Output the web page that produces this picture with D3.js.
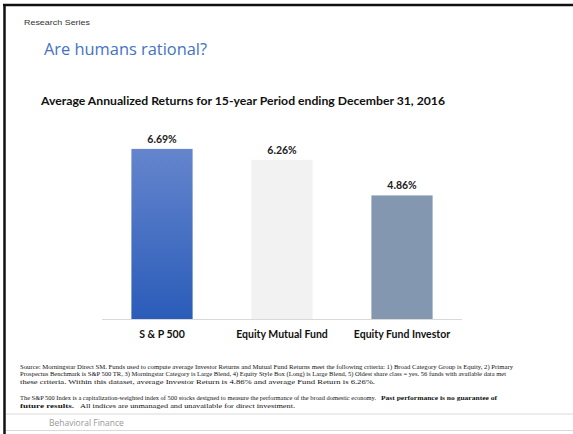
<!DOCTYPE html>
<html>
<head>
<meta charset="utf-8">
<script src="https://cdn.jsdelivr.net/npm/d3@7"></script>
<style>
  body { margin: 0; background: #fff; }
  svg { display: block; }
</style>
</head>
<body>
<svg id="chart" width="573" height="434"></svg>
<script>
// data
const categories = ["S & P 500", "Equity Mutual Fund", "Equity Fund Investor"];
const returns = [6.69, 6.26, 4.86];
const barColors = ["url(#spGrad)", "#f2f2f2", "#8497b0"];

const footLines = [
  "Source: Morningstar Direct SM. Funds used to compute average Investor Returns and Mutual Fund Returns meet the following criteria: 1) Broad Category Group is Equity, 2) Primary",
  "Prospectus Benchmark is S&P 500 TR, 3) Morningstar Category is Large Blend, 4) Equity Style Box (Long) is Large Blend, 5) Oldest share class = yes. 56 funds with available data met",
  "these criteria. Within this dataset, average Investor Return is 4.86% and average Fund Return is 6.26%."
];
const noteRuns = [
  { text: "The S&P 500 Index is a capitalization-weighted index of 500 stocks designed to measure the performance of the broad domestic economy.", bold: false, x: 20, len: 356, row: 0 },
  { text: "Past performance is no guarantee of", bold: true, x: 381, len: 116, row: 0 },
  { text: "future results.", bold: true, x: 20, len: 54, row: 1 },
  { text: "All indices are unmanaged and unavailable for direct investment.", bold: false, x: 80, len: 215, row: 1 }
];

const svg = d3.select("#chart");

// shrink font if too wide, then stretch to exact length
function fitText(sel, target, size) {
  sel.each(function(d, i) {
    const t = d3.select(this);
    const w = typeof target === "function" ? target(d, i) : target;
    t.attr("font-size", size);
    const natural = this.getComputedTextLength();
    if (natural > w) t.attr("font-size", size * w / natural);
    t.attr("textLength", w).attr("lengthAdjust", "spacingAndGlyphs");
  });
}

const defs = svg.append("defs");
const grad = defs.append("linearGradient").attr("id", "spGrad")
  .attr("x1", 0).attr("y1", 0).attr("x2", 0).attr("y2", 1);
grad.append("stop").attr("offset", "0%").attr("stop-color", "#6585cd");
grad.append("stop").attr("offset", "100%").attr("stop-color", "#2a5cb9");

// slide frame
svg.append("line").attr("x1", 3).attr("x2", 573).attr("y1", 5).attr("y2", 5)
  .attr("stroke", "#111").attr("stroke-width", 2.5);
svg.append("line").attr("x1", 4.5).attr("x2", 4.5).attr("y1", 4).attr("y2", 434)
  .attr("stroke", "#111").attr("stroke-width", 2.5);

svg.append("text").attr("x", 24).attr("y", 25)
  .attr("font-family", "Liberation Sans, sans-serif").attr("font-size", 7.5)
  .attr("fill", "#333").attr("textLength", 66).attr("lengthAdjust", "spacingAndGlyphs")
  .text("Research Series");

svg.append("text").attr("x", 44).attr("y", 55)
  .attr("font-family", "Open Sans, sans-serif").attr("font-size", 16.5)
  .attr("fill", "#4472c4").attr("textLength", 163).attr("lengthAdjust", "spacingAndGlyphs")
  .text("Are humans rational?");

svg.append("text").attr("x", 41).attr("y", 105)
  .attr("font-family", "Lato, sans-serif").attr("font-size", 12).attr("font-weight", "bold")
  .attr("fill", "#111").attr("textLength", 404).attr("lengthAdjust", "spacingAndGlyphs")
  .text("Average Annualized Returns for 15-year Period ending December 31, 2016");

// chart
const x = d3.scaleBand().domain(categories).range([102, 462]).paddingInner(0.49).paddingOuter(0.245);
const y = d3.scaleLinear().domain([0, 7]).range([319, 141]);

const g = svg.append("g");
g.selectAll("rect.bar").data(returns).join("rect")
  .attr("class", "bar")
  .attr("x", (d, i) => x(categories[i]))
  .attr("width", x.bandwidth())
  .attr("y", d => y(d))
  .attr("height", d => y(0) - y(d))
  .attr("fill", (d, i) => barColors[i]);

g.selectAll("text.val").data(returns).join("text")
  .attr("class", "val")
  .attr("x", (d, i) => x(categories[i]) + x.bandwidth() / 2)
  .attr("y", d => y(d) - 6)
  .attr("text-anchor", "middle")
  .attr("font-family", "Lato, sans-serif").attr("font-size", 10.5).attr("font-weight", "bold")
  .attr("fill", "#222")
  .text(d => d.toFixed(2) + "%");

const axis = g.append("g").attr("transform", `translate(0,${y(0)})`)
  .call(d3.axisBottom(x).tickSize(0).tickPadding(10));
axis.select(".domain").attr("stroke", "#d9d9d9").attr("d", "M102,0.5H462");
axis.selectAll("text")
  .attr("font-family", "Lato, sans-serif").attr("font-size", 10.5).attr("font-weight", "bold")
  .attr("fill", "#111").attr("dy", "0.9em");

// footnotes
const footWidths = [493, 486, 355];
const foot = svg.append("g")
  .attr("font-family", "Liberation Serif, serif").attr("fill", "#111");
foot.selectAll("text.src").data(footLines).join("text")
  .attr("class", "src")
  .attr("x", 20).attr("y", (d, i) => 368.5 + i * 7.6)
  .text(d => d)
  .call(fitText, (d, i) => footWidths[i], 7);

foot.selectAll("text.note").data(noteRuns).join("text")
  .attr("class", "note")
  .attr("x", d => d.x).attr("y", d => 399.5 + d.row * 8.5)
  .attr("font-weight", d => d.bold ? "bold" : null)
  .text(d => d.text)
  .call(fitText, d => d.len, 7);

svg.append("line").attr("x1", 6).attr("x2", 573).attr("y1", 414).attr("y2", 414)
  .attr("stroke", "#d9d9d9").attr("stroke-width", 1);
svg.append("line").attr("x1", 6).attr("x2", 573).attr("y1", 430.5).attr("y2", 430.5)
  .attr("stroke", "#d9d9d9").attr("stroke-width", 1);
svg.append("text").attr("x", 49).attr("y", 426)
  .attr("font-family", "Open Sans, sans-serif").attr("font-size", 8.5).attr("fill", "#999")
  .text("Behavioral Finance");
</script>
</body>
</html>
